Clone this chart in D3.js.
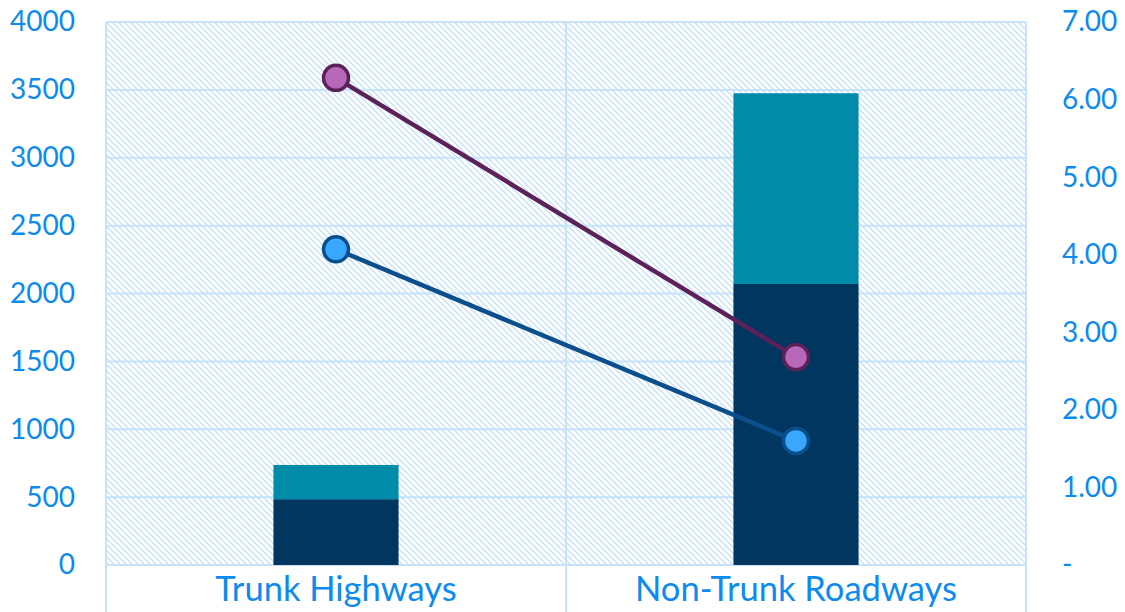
<!DOCTYPE html>
<html>
<head>
<meta charset="utf-8">
<script src="https://cdn.jsdelivr.net/npm/d3@7/dist/d3.min.js"></script>
<style>
  html, body { margin: 0; padding: 0; background: #ffffff; }
  svg { display: block; }
  .tick text { font-family: Lato, "Open Sans", sans-serif; fill: #0b8bef; }
</style>
</head>
<body>
<svg id="chart" width="1125" height="612"></svg>
<script>
// Road categories and their stacked crash counts (left axis)
const categories = ["Trunk Highways", "Non-Trunk Roadways"];
const lowerSeries = [485, 2070];
const upperSeries = [252, 1405];

// Rates plotted against the right axis
const purpleRate = [6.28, 2.68];
const blueRate = [4.07, 1.60];

// Axis ticks
const leftTicks = [0, 500, 1000, 1500, 2000, 2500, 3000, 3500, 4000];
const rightTicks = [0, 1, 2, 3, 4, 5, 6, 7];

const W = 1125, H = 612;
const plot = { left: 106, right: 1026, top: 22, bottom: 565 };

const svg = d3.select("#chart");

const x = d3.scaleBand().domain(categories).range([plot.left, plot.right]).padding(0);
const yL = d3.scaleLinear().domain([0, 4000]).range([plot.bottom, plot.top]);
const yR = d3.scaleLinear().domain([0, 7]).range([plot.bottom, plot.top]);

const gridColor = "#c6e3fb";

// Diagonal hatch fill for the plot background
const defs = svg.append("defs");
const pat = defs.append("pattern")
  .attr("id", "hatch")
  .attr("patternUnits", "userSpaceOnUse")
  .attr("width", 6).attr("height", 6);
pat.append("path")
  .attr("d", "M-1,-1 L7,7 M-4,2 L1,7 M2,-4 L7,1")
  .attr("stroke", "#c2e0fb")
  .attr("stroke-width", 1.3);

svg.append("rect")
  .attr("x", plot.left).attr("y", plot.top)
  .attr("width", plot.right - plot.left).attr("height", plot.bottom - plot.top)
  .attr("fill", "url(#hatch)");

// Horizontal gridlines
svg.append("g").selectAll("line").data(leftTicks).join("line")
  .attr("x1", plot.left).attr("x2", plot.right)
  .attr("y1", d => yL(d)).attr("y2", d => yL(d))
  .attr("stroke", gridColor).attr("stroke-width", 2);

// Vertical category dividers, running down through the label row
const dividers = [plot.left, x(categories[1]), plot.right];
svg.append("g").selectAll("line").data(dividers).join("line")
  .attr("x1", d => d).attr("x2", d => d)
  .attr("y1", plot.top).attr("y2", H)
  .attr("stroke", gridColor).attr("stroke-width", 2);

// Stacked bars
const barW = x.bandwidth() * 0.272;
const barX = c => x(c) + (x.bandwidth() - barW) / 2;
const bars = svg.append("g");
bars.selectAll(".lower").data(categories).join("rect")
  .attr("class", "lower")
  .attr("x", d => barX(d)).attr("width", barW)
  .attr("y", (d, i) => yL(lowerSeries[i]))
  .attr("height", (d, i) => yL(0) - yL(lowerSeries[i]))
  .attr("fill", "#003660");
bars.selectAll(".upper").data(categories).join("rect")
  .attr("class", "upper")
  .attr("x", d => barX(d)).attr("width", barW)
  .attr("y", (d, i) => yL(lowerSeries[i] + upperSeries[i]))
  .attr("height", (d, i) => yL(lowerSeries[i]) - yL(lowerSeries[i] + upperSeries[i]))
  .attr("fill", "#008ba8");

// Rate lines with circular markers
const cx = c => x(c) + x.bandwidth() / 2;
function drawRate(values, lineColor, fillColor) {
  const pts = categories.map((c, i) => [cx(c), yR(values[i])]);
  svg.append("path")
    .attr("d", d3.line()(pts))
    .attr("fill", "none").attr("stroke", lineColor).attr("stroke-width", 4.5);
  svg.append("g").selectAll("circle").data(pts).join("circle")
    .attr("cx", d => d[0]).attr("cy", d => d[1]).attr("r", 12.5)
    .attr("fill", fillColor).attr("stroke", lineColor).attr("stroke-width", 3.5);
}
drawRate(purpleRate, "#5b2159", "#b868b9");
drawRate(blueRate, "#0a4f8c", "#3aa7ff");

// Left axis
const axL = svg.append("g")
  .attr("transform", `translate(${plot.left},0)`)
  .call(d3.axisLeft(yL).tickValues(leftTicks).tickSize(0).tickPadding(31).tickFormat(d3.format("d")));
axL.select(".domain").remove();
axL.selectAll("text").style("font-size", "28px");

// Right axis
const axR = svg.append("g")
  .attr("transform", `translate(${plot.right},0)`)
  .call(d3.axisRight(yR).tickValues(rightTicks).tickSize(0).tickPadding(36)
    .tickFormat(v => v === 0 ? "-" : v.toFixed(2)));
axR.select(".domain").remove();
axR.selectAll("text").style("font-size", "28px");

// Category labels
const axB = svg.append("g")
  .attr("transform", `translate(0,${plot.bottom})`)
  .call(d3.axisBottom(x).tickSize(0).tickPadding(12));
axB.select(".domain").remove();
axB.selectAll("text").style("font-size", "34.5px");
</script>
</body>
</html>
